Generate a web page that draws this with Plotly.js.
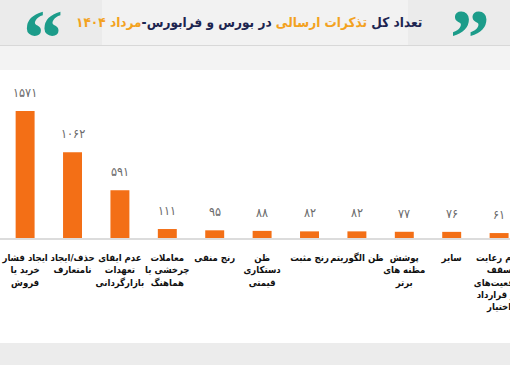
<!DOCTYPE html>
<html>
<head>
<meta charset="utf-8">
<script src="https://cdn.plot.ly/plotly-3.0.1.min.js"></script>
<style>
html,body{margin:0;padding:0;background:#fff;}
#chart{width:510px;height:365px;}
</style>
</head>
<body>
<div id="chart"></div>
<script>
const categories = [
  "ایجاد فشار<br>خرید یا<br>فروش",
  "حذف/ایجاد<br>نامتعارف",
  "عدم ایفای<br>تعهدات<br>بازارگردانی",
  "معاملات<br>چرخشی یا<br>هماهنگ",
  "رنج منفی",
  "ظن<br>دستکاری<br>قیمتی",
  "رنج مثبت",
  "ظن الگوریتم",
  "پوشش<br>مظنه های<br>برتر",
  "سایر",
  "عدم رعایت<br>سقف<br>موقعیت‌های<br>باز قرارداد<br>اختیار"
];
const values = [1571, 1062, 591, 111, 95, 88, 82, 82, 77, 76, 61];
const titleParts = ["تعداد کل ", "تذکرات ارسالی", " در بورس و فرابورس-", "مرداد ۱۴۰۴"];

function toPersian(n){
  const d = "۰۱۲۳۴۵۶۷۸۹";
  return String(n).replace(/[0-9]/g, c => d[+c]);
}

const orange = "#f36f16";
const teal = "#1c9c8a";
const navy = "#1d2550";
const gold = "#f3a21f";

const trace = {
  type: "bar",
  x: categories,
  y: values,
  marker: {color: orange},
  width: 0.4,
  hoverinfo: "none"
};

const W = 510, H = 365, T = 80, B = 127;
const ph = H - T - B;
function py(px){ return (H - B - px) / ph; }

const annotations = values.map((v, i) => ({
  x: categories[i], y: v, xref: "x", yref: "y",
  text: toPersian(v), showarrow: false,
  yanchor: "bottom", yshift: 9,
  font: {family: "DejaVu Sans Condensed, DejaVu Sans", size: 12.5, color: "#6a6a6a"}
}));

annotations.push({
  xref: "paper", yref: "paper", x: 249 / W, y: py(22),
  xanchor: "center", yanchor: "middle", showarrow: false,
  text: "<b>" + titleParts[0] + "<span style='color:" + gold + "'>" + titleParts[1] + "</span>" +
        titleParts[2] + "<span style='color:" + gold + "'>" + titleParts[3] + "</span></b>",
  font: {family: "DejaVu Sans Condensed, DejaVu Sans", size: 13.5, color: navy}
});
annotations.push({
  xref: "paper", yref: "paper", x: 470 / W, y: py(22),
  xanchor: "center", yanchor: "middle", yshift: -16, showarrow: false,
  text: "<b>\u201D</b>", font: {family: "Liberation Serif", size: 80, color: teal}
});
annotations.push({
  xref: "paper", yref: "paper", x: 43 / W, y: py(22),
  xanchor: "center", yanchor: "middle", yshift: -16, showarrow: false,
  text: "<b>\u201C</b>", font: {family: "Liberation Serif", size: 80, color: teal}
});

const shapes = [
  {type: "rect", xref: "paper", yref: "paper", x0: 0, x1: 1, y0: py(45), y1: py(0),
   fillcolor: "#ebebeb", line: {width: 0}, layer: "below"},
  {type: "rect", xref: "paper", yref: "paper", x0: 0.2, x1: 0.8, y0: py(45), y1: py(0),
   fillcolor: "#f2f2f2", line: {width: 0}, layer: "below"},
  {type: "rect", xref: "paper", yref: "paper", x0: 0, x1: 1, y0: py(70), y1: py(46),
   fillcolor: "#f3f3f3", line: {width: 0}, layer: "below"},
  {type: "line", xref: "paper", yref: "paper", x0: 0, x1: 1, y0: py(45.5), y1: py(45.5),
   line: {color: "#d8d8d8", width: 1}, layer: "below"},
  {type: "rect", xref: "paper", yref: "paper", x0: 0, x1: 1, y0: py(365), y1: py(343),
   fillcolor: "#ececec", line: {width: 0}, layer: "below"}
];

const layout = {
  width: W, height: H,
  margin: {l: 0, r: 0, t: T, b: B, pad: 0},
  paper_bgcolor: "#ffffff",
  plot_bgcolor: "rgba(0,0,0,0)",
  showlegend: false,
  bargap: 0.6,
  xaxis: {
    type: "category",
    range: [-0.53, 10.23],
    showgrid: false, zeroline: false,
    showline: true, linecolor: "#dcdcdc", linewidth: 1.5,
    ticks: "", ticklabelstandoff: 10, tickangle: 0,
    tickfont: {family: "DejaVu Sans Condensed, DejaVu Sans", size: 9.5, color: "#111", weight: "bold"},
    fixedrange: true
  },
  yaxis: {
    range: [0, 1955],
    visible: false, showgrid: false, zeroline: false,
    fixedrange: true
  },
  annotations: annotations,
  shapes: shapes
};

Plotly.newPlot("chart", [trace], layout, {staticPlot: true, displayModeBar: false});
</script>
</body>
</html>
